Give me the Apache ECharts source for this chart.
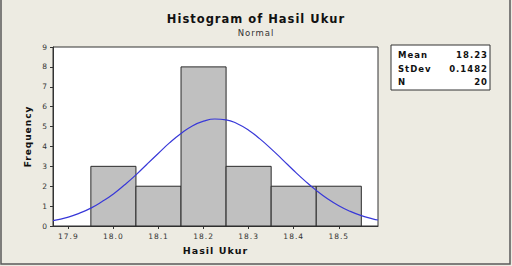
<!DOCTYPE html>
<html>
<head>
<meta charset="utf-8">
<script src="https://cdn.jsdelivr.net/npm/echarts@6/dist/echarts.min.js"></script>
<style>
    html, body { margin: 0; padding: 0; background: #EDEBE2; }
    #main { width: 512px; height: 266px; }
    /* minitab style spaced lettering */
    #main text { letter-spacing: 1px; }
</style>
</head>
<body>
<div id="main"></div>
<script>
    // histogram bins (lower edge, upper edge) and counts
    var binStart = [17.95, 18.05, 18.15, 18.25, 18.35, 18.45];
    var binEnd = [18.05, 18.15, 18.25, 18.35, 18.45, 18.55];
    var counts = [3, 2, 8, 3, 2, 2];

    // fitted normal curve
    var curveX = [17.866, 17.9, 17.925, 17.95, 17.975, 18.0, 18.025, 18.05, 18.075, 18.1, 18.125, 18.15, 18.175, 18.2,
        18.225, 18.25, 18.275, 18.3, 18.325, 18.35, 18.375, 18.4, 18.425, 18.45, 18.475, 18.5, 18.525, 18.55, 18.575, 18.587];
    var curveY = [0.27, 0.45, 0.65, 0.90, 1.23, 1.61, 2.07, 2.57, 3.12, 3.66, 4.19, 4.65, 5.03, 5.27,
        5.38, 5.34, 5.14, 4.82, 4.38, 3.88, 3.34, 2.79, 2.27, 1.79, 1.37, 1.02, 0.74, 0.52, 0.36, 0.30];

    var xTicks = [17.9, 18.0, 18.1, 18.2, 18.3, 18.4, 18.5];
    var statNames = ['Mean', 'StDev', 'N'];
    var statValues = ['18.23', '0.1482', '20'];

    var font = 'DejaVu Sans, Verdana, sans-serif';
    var chart = echarts.init(document.getElementById('main'), null, {renderer: 'svg'});

    var barData = binStart.map(function (s, i) {
        return [s, binEnd[i], counts[i]];
    });
    var lineData = curveX.map(function (x, i) {
        return [x, curveY[i]];
    });

    var statText = [];
    statNames.forEach(function (n, i) {
        statText.push({
            type: 'text', x: 398, y: 50.5 + i * 13.5,
            style: {text: n, font: 'bold 8.5px ' + font, fill: '#111'}
        });
        statText.push({
            type: 'text', x: 488, y: 50.5 + i * 13.5,
            style: {text: statValues[i], font: 'bold 8.5px ' + font, fill: '#111', textAlign: 'right'}
        });
    });

    var option = {
        backgroundColor: '#EDEBE2',
        animation: false,
        title: {
            text: 'Histogram of Hasil Ukur',
            subtext: 'Normal',
            left: 251,
            textAlign: 'center',
            top: 8,
            itemGap: 3,
            textStyle: {fontFamily: font, fontSize: 11.5, fontWeight: 'bold', color: '#111'},
            subtextStyle: {fontFamily: font, fontSize: 8.5, color: '#333'}
        },
        grid: {
            left: 53, right: 134, top: 47, bottom: 40,
            show: true, backgroundColor: '#fff', borderColor: '#333', borderWidth: 1
        },
        xAxis: {
            type: 'value',
            min: 17.866,
            max: 18.587,
            name: 'Hasil Ukur',
            nameLocation: 'middle',
            nameGap: 19,
            nameTextStyle: {fontFamily: font, fontSize: 9.5, fontWeight: 'bold', color: '#111'},
            axisLine: {show: true, lineStyle: {color: '#333'}},
            axisTick: {show: true, customValues: xTicks, length: 3, lineStyle: {color: '#333'}},
            axisLabel: {
                customValues: xTicks, fontFamily: font, fontSize: 7.5, color: '#333', margin: 6,
                formatter: function (v) { return v.toFixed(1); }
            },
            splitLine: {show: false}
        },
        yAxis: {
            type: 'value',
            min: 0, max: 9, interval: 1,
            name: 'Frequency',
            nameLocation: 'middle',
            nameGap: 21,
            nameTextStyle: {fontFamily: font, fontSize: 9, fontWeight: 'bold', color: '#111'},
            axisLine: {show: true, lineStyle: {color: '#333'}},
            axisTick: {show: true, length: 3, lineStyle: {color: '#333'}},
            axisLabel: {fontFamily: font, fontSize: 7.5, color: '#333', margin: 5},
            splitLine: {show: false}
        },
        series: [
            {
                type: 'custom',
                data: barData,
                renderItem: function (params, api) {
                    var p0 = api.coord([api.value(0), api.value(2)]);
                    var p1 = api.coord([api.value(1), 0]);
                    return {
                        type: 'rect',
                        shape: {x: p0[0], y: p0[1], width: p1[0] - p0[0], height: p1[1] - p0[1]},
                        style: {fill: '#C0C0C0', stroke: '#2a2a2a', lineWidth: 1}
                    };
                },
                encode: {x: [0, 1], y: 2}
            },
            {
                type: 'line',
                data: lineData,
                smooth: true,
                symbol: 'none',
                lineStyle: {color: '#3838D8', width: 1.2},
                z: 5
            }
        ],
        graphic: [
            {
                type: 'rect', x: 1, y: -3,
                shape: {width: 509, height: 267},
                style: {fill: 'none', stroke: '#5a5a5a', lineWidth: 1.5}
            },
            {
                type: 'rect', x: 391, y: 45,
                shape: {width: 99, height: 45},
                style: {fill: '#fff', stroke: '#333', lineWidth: 1}
            }
        ].concat(statText)
    };
    chart.setOption(option);
</script>
</body>
</html>
